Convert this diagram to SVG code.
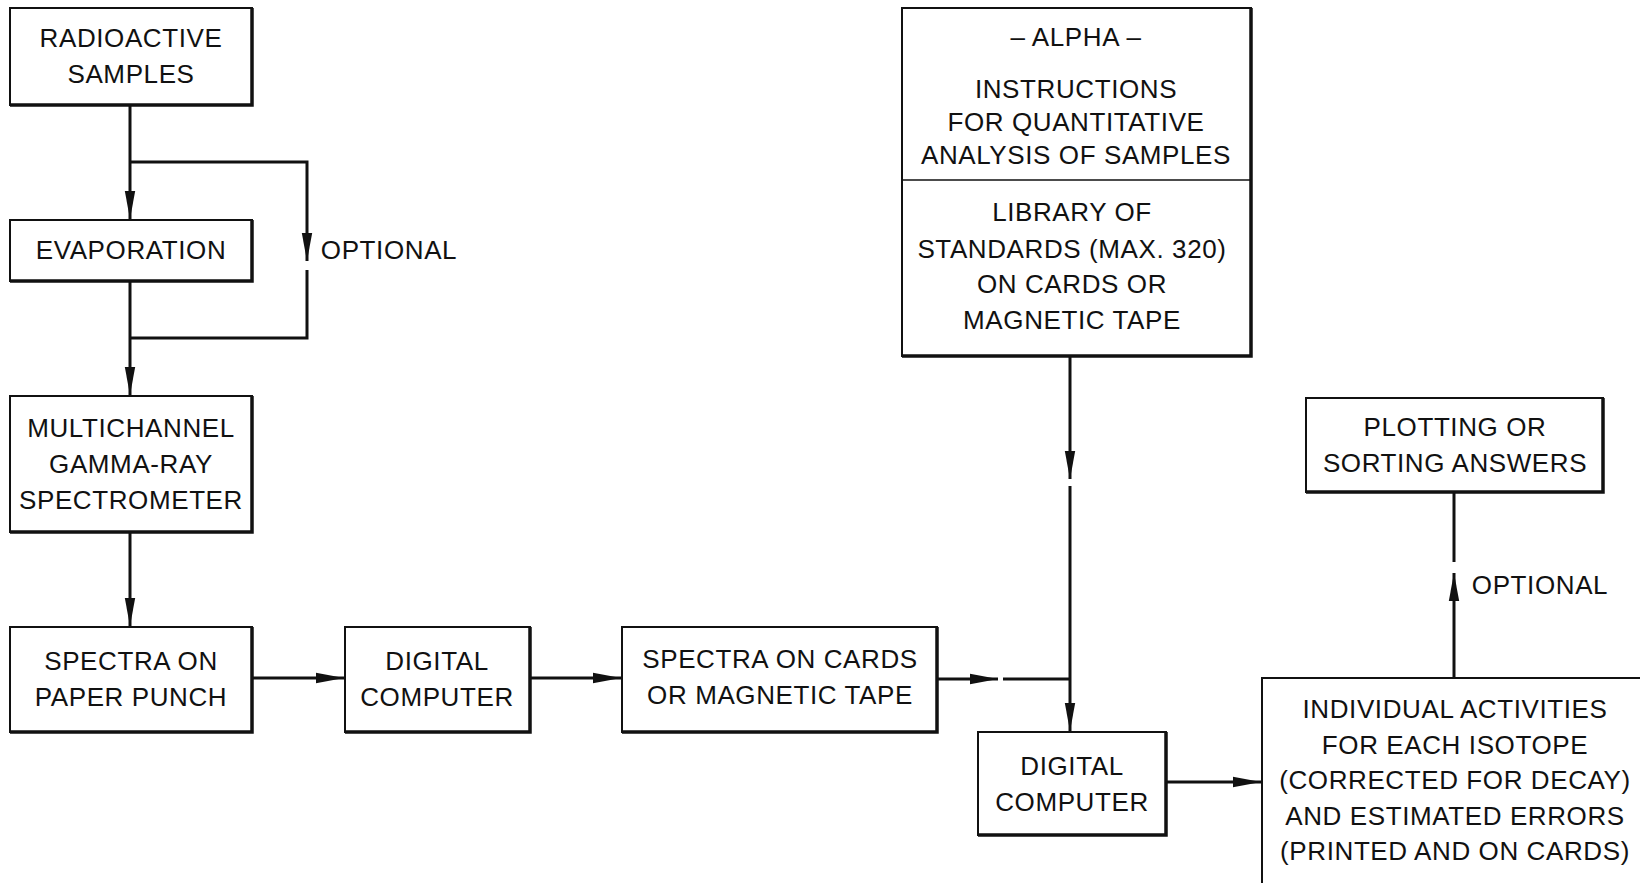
<svg xmlns="http://www.w3.org/2000/svg" width="1640" height="883" viewBox="0 0 1640 883">
<style>
.box{fill:#fff;stroke:#111;stroke-width:2}
.sh{stroke:#111;stroke-width:3.5;fill:none}
.ln{stroke:#111;stroke-width:3;fill:none}
text{font-family:"Liberation Sans",Arial,sans-serif;font-size:26px;fill:#111;text-anchor:middle;letter-spacing:0.6px}
</style>
<defs>
<marker id="ah" markerUnits="userSpaceOnUse" markerWidth="30" markerHeight="12" refX="28" refY="6" orient="auto">
<path d="M0,0.8 L28,6 L0,11.2 z" fill="#111"/>
</marker>
</defs>
<rect width="1640" height="883" fill="#fff"/>
<g id="connectors">
<path class="ln" d="M130,106 V219" marker-end="url(#ah)"/>
<path class="ln" d="M130,162 H307 V261" marker-end="url(#ah)"/>
<path class="ln" d="M307,270 V338 H130"/>
<path class="ln" d="M130,282 V395" marker-end="url(#ah)"/>
<path class="ln" d="M130,533 V626" marker-end="url(#ah)"/>
<path class="ln" d="M253,678 H344" marker-end="url(#ah)"/>
<path class="ln" d="M531,678 H621" marker-end="url(#ah)"/>
<path class="ln" d="M938,679 H998" marker-end="url(#ah)"/>
<path class="ln" d="M1003,679 H1070"/>
<path class="ln" d="M1070,357 V479" marker-end="url(#ah)"/>
<path class="ln" d="M1070,486 V731" marker-end="url(#ah)"/>
<path class="ln" d="M1167,782 H1261" marker-end="url(#ah)"/>
<path class="ln" d="M1454,677 V573" marker-end="url(#ah)"/>
<path class="ln" d="M1454,562 V493"/>
</g>
<g id="radioactive">
<rect class="box" x="10" y="8" width="242" height="97"/>
<path class="sh" d="M252,8 V105 H10"/>
<text x="131" y="47">RADIOACTIVE</text>
<text x="131" y="83">SAMPLES</text>
</g>
<g id="evaporation">
<rect class="box" x="10" y="220" width="242" height="61"/>
<path class="sh" d="M252,220 V281 H10"/>
<text x="131" y="259">EVAPORATION</text>
</g>
<text x="389" y="259">OPTIONAL</text>
<g id="spectrometer">
<rect class="box" x="10" y="396" width="242" height="136"/>
<path class="sh" d="M252,396 V532 H10"/>
<text x="131" y="437">MULTICHANNEL</text>
<text x="131" y="473">GAMMA-RAY</text>
<text x="131" y="509">SPECTROMETER</text>
</g>
<g id="paperpunch">
<rect class="box" x="10" y="627" width="242" height="105"/>
<path class="sh" d="M252,627 V732 H10"/>
<text x="131" y="670">SPECTRA ON</text>
<text x="131" y="706">PAPER PUNCH</text>
</g>
<g id="computer1">
<rect class="box" x="345" y="627" width="185" height="105"/>
<path class="sh" d="M530,627 V732 H345"/>
<text x="437" y="670">DIGITAL</text>
<text x="437" y="706">COMPUTER</text>
</g>
<g id="cards">
<rect class="box" x="622" y="627" width="315" height="105"/>
<path class="sh" d="M937,627 V732 H622"/>
<text x="780" y="668">SPECTRA ON CARDS</text>
<text x="780" y="704">OR MAGNETIC TAPE</text>
</g>
<g id="alpha">
<rect class="box" x="902" y="8" width="349" height="348"/>
<path class="sh" d="M1251,8 V356 H902"/>
<line x1="902" y1="180" x2="1251" y2="180" stroke="#111" stroke-width="1.5"/>
<text x="1076" y="46">– ALPHA –</text>
<text x="1076" y="98">INSTRUCTIONS</text>
<text x="1076" y="131">FOR QUANTITATIVE</text>
<text x="1076" y="164">ANALYSIS OF SAMPLES</text>
<text x="1072" y="221">LIBRARY OF</text>
<text x="1072" y="258">STANDARDS (MAX. 320)</text>
<text x="1072" y="293">ON CARDS OR</text>
<text x="1072" y="329">MAGNETIC TAPE</text>
</g>
<g id="computer2">
<rect class="box" x="978" y="732" width="188" height="103"/>
<path class="sh" d="M1166,732 V835 H978"/>
<text x="1072" y="775">DIGITAL</text>
<text x="1072" y="811">COMPUTER</text>
</g>
<g id="activities">
<rect class="box" x="1262" y="678" width="400" height="230"/>
<text x="1455" y="718">INDIVIDUAL ACTIVITIES</text>
<text x="1455" y="754">FOR EACH ISOTOPE</text>
<text x="1455" y="789">(CORRECTED FOR DECAY)</text>
<text x="1455" y="825">AND ESTIMATED ERRORS</text>
<text x="1455" y="860">(PRINTED AND ON CARDS)</text>
</g>
<g id="plotting">
<rect class="box" x="1306" y="398" width="297" height="94"/>
<path class="sh" d="M1603,398 V492 H1306"/>
<text x="1455" y="436">PLOTTING OR</text>
<text x="1455" y="472">SORTING ANSWERS</text>
</g>
<text x="1540" y="594">OPTIONAL</text>
</svg>
